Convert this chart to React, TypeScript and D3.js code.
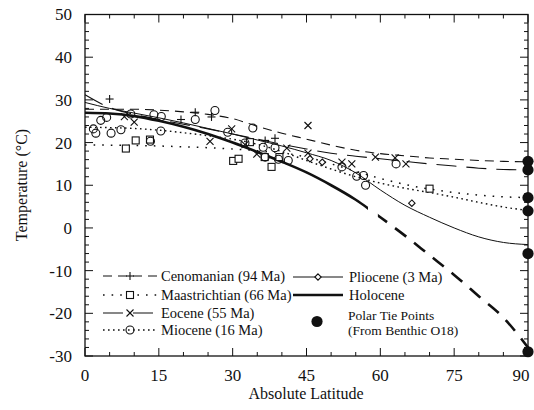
import React from "react";
import * as d3 from "d3";

// ---------- data ----------
const latGrid = [0, 5, 10, 15, 20, 25, 30, 35, 40, 45, 50, 55, 60, 65, 70, 75, 80, 85, 90];

const cenomanianFit = [27.8, 27.8, 27.8, 27.6, 27.2, 26.6, 25.6, 23.8, 22.2, 20.8, 19.4, 18.2, 17.4, 16.9, 16.4, 16.1, 15.8, 15.6, 15.5];
const maastrichtianFit = [19.4, 19.4, 19.3, 19.2, 19.0, 18.8, 18.5, 18.1, 17.6, 16.6, 15.0, 13.3, 11.6, 10.2, 9.1, 8.3, 7.7, 7.3, 7.1];
const eoceneFit = [31.2, 28.2, 26.6, 25.4, 24.3, 23.2, 22.0, 20.8, 19.6, 18.5, 17.5, 16.8, 16.2, 15.6, 15.0, 14.5, 14.0, 13.7, 13.6];
const mioceneFit = [23.6, 23.5, 23.3, 22.9, 22.3, 21.6, 20.8, 19.6, 17.9, 15.8, 13.8, 12.0, 10.5, 9.3, 8.3, 7.2, 6.0, 4.9, 4.1];
const plioceneFit = [29.4, 28.0, 26.9, 25.8, 24.6, 23.3, 22.0, 20.6, 19.2, 17.6, 15.8, 12.9, 8.9, 5.3, 2.5, 0.0, -2.1, -3.4, -3.9];
const holoceneFit = [27.0, 26.8, 26.2, 25.1, 23.7, 22.0, 20.0, 17.8, 15.5, 13.0, 10.0, 6.6, 2.5, -1.8, -6.4, -11.0, -16.0, -21.0, -28.0];
const holoceneSolidEnd = 57.5;

const cenomanianPts: [number, number][] = [
  [5, 30.2], [19.5, 25.4], [22.4, 27.1], [25.7, 26.0], [36.6, 20.5], [38.6, 21.0],
];
const maastrichtianPts: [number, number][] = [
  [8.3, 18.6], [10.3, 20.5], [13.2, 20.7], [30.1, 15.7], [31.2, 16.2], [33.5, 20.1],
  [36.5, 16.6], [37.9, 14.3], [39.5, 16.6], [70, 9.2],
];
const eocenePts: [number, number][] = [
  [8, 26.1], [10, 24.8], [25.4, 20.3], [29.8, 23.2], [32.5, 19.5], [34.9, 17.3],
  [41, 18.7], [45.3, 24.0], [45.3, 17.5], [52.2, 15.4], [54.2, 15.0], [59, 16.6],
  [63, 16.4], [65.2, 15.0],
];
const miocenePts: [number, number][] = [
  [1.7, 23.2], [2.2, 22.2], [3.2, 25.2], [4.4, 25.9], [5.3, 22.2], [7.3, 23.0],
  [9.3, 26.7], [13.3, 20.3], [14, 26.5], [15.5, 26.1], [15.4, 22.7], [22.4, 25.4],
  [26.4, 27.5], [29, 22.4], [32.5, 19.9], [34.1, 23.4], [36.2, 18.9], [36.6, 16.6],
  [38.6, 18.8], [39.3, 16.1], [41.3, 15.8], [52.2, 14.3], [55.2, 12.1], [56.6, 12.3],
  [57, 10.0], [63.2, 15.0],
];
const pliocenePts: [number, number][] = [
  [45.7, 16.2], [48.2, 15.4], [66.4, 5.8],
];
const polarTieLat = 90;
const polarTieTemps = [15.6, 13.6, 7.1, 4.0, -6.0, -29.0];

const xTicks = [0, 15, 30, 45, 60, 75, 90];
const yTicks = [-30, -20, -10, 0, 10, 20, 30, 40, 50];

const legendLeft = ["Cenomanian (94 Ma)", "Maastrichtian (66 Ma)", "Eocene (55 Ma)", "Miocene (16 Ma)"];
const legendRight = ["Pliocene (3 Ma)", "Holocene"];
const tieLabel = ["Polar Tie Points", "(From Benthic O18)"];

// ---------- chart ----------
const W = 534;
const H = 410;
const FONT = "'Liberation Serif', 'Times New Roman', serif";
const INK = "#111";

const x = d3.scaleLinear().domain([0, 90]).range([85, 528]);
const y = d3.scaleLinear().domain([-30, 50]).range([356, 14.5]);

const lineGen = d3
  .line<[number, number]>()
  .x((d) => x(d[0]))
  .y((d) => y(d[1]))
  .curve(d3.curveMonotoneX);

const zipFit = (vals: number[]) => latGrid.map((l, i) => [l, vals[i]] as [number, number]);

type MarkerKind = "plus" | "square" | "cross" | "circle" | "diamond";

function Marker({ kind, cx, cy }: { kind: MarkerKind; cx: number; cy: number }) {
  const sw = 1.1;
  if (kind === "plus") {
    return (
      <g stroke={INK} strokeWidth={sw}>
        <line x1={cx - 4} x2={cx + 4} y1={cy} y2={cy} />
        <line x1={cx} x2={cx} y1={cy - 4} y2={cy + 4} />
      </g>
    );
  }
  if (kind === "cross") {
    return (
      <g stroke={INK} strokeWidth={sw}>
        <line x1={cx - 3.5} x2={cx + 3.5} y1={cy - 3.5} y2={cy + 3.5} />
        <line x1={cx - 3.5} x2={cx + 3.5} y1={cy + 3.5} y2={cy - 3.5} />
      </g>
    );
  }
  if (kind === "square") {
    return <rect x={cx - 3.5} y={cy - 3.5} width={7} height={7} fill="white" stroke={INK} strokeWidth={sw} />;
  }
  if (kind === "circle") {
    return <circle cx={cx} cy={cy} r={4} fill="none" stroke={INK} strokeWidth={sw} />;
  }
  return (
    <path
      d={`M${cx},${cy - 3.2}L${cx + 3.2},${cy}L${cx},${cy + 3.2}L${cx - 3.2},${cy}Z`}
      fill="white"
      stroke={INK}
      strokeWidth={sw}
    />
  );
}

const series = [
  { name: legendLeft[0], fit: cenomanianFit, pts: cenomanianPts, marker: "plus" as MarkerKind, dash: "9,6", width: 1.1 },
  { name: legendLeft[1], fit: maastrichtianFit, pts: maastrichtianPts, marker: "square" as MarkerKind, dash: "1.6,7", width: 1.5 },
  { name: legendLeft[2], fit: eoceneFit, pts: eocenePts, marker: "cross" as MarkerKind, dash: "20,10", width: 1.1 },
  { name: legendLeft[3], fit: mioceneFit, pts: miocenePts, marker: "circle" as MarkerKind, dash: "1.6,3.4", width: 1.4 },
  { name: legendRight[0], fit: plioceneFit, pts: pliocenePts, marker: "diamond" as MarkerKind, dash: "", width: 1.0 },
];

export default function App() {
  const yMinor = d3.range(-30, 50.001, 2);
  const xMinor = d3.range(0, 90.001, 5);
  const holo = zipFit(holoceneFit);
  const plotTop = y(50);
  const plotBottom = y(-30);
  const plotLeft = x(0);
  const plotRight = x(90);

  const leftRows = [276, 295, 313, 330];
  const rightRows = [277, 295];

  return (
    <svg
      width={W}
      height={H}
      viewBox={`0 0 ${W} ${H}`}
      style={{ position: "absolute", left: 0, top: 0, background: "white" }}
      fontFamily={FONT}
    >
      <defs>
        <clipPath id="holoSolid">
          <rect x={0} y={0} width={x(holoceneSolidEnd)} height={H} />
        </clipPath>
        <clipPath id="holoDash">
          <rect x={x(59.5)} y={0} width={W} height={H} />
        </clipPath>
      </defs>

      {/* frame */}
      <rect
        x={plotLeft}
        y={plotTop}
        width={plotRight - plotLeft}
        height={plotBottom - plotTop}
        fill="none"
        stroke={INK}
        strokeWidth={1.3}
      />

      {/* y ticks (left & right, inward) */}
      {yMinor.map((v) => {
        const major = v % 10 === 0;
        const len = major ? 8 : 4;
        return (
          <g key={"yt" + v} stroke={INK} strokeWidth={1}>
            <line x1={plotLeft} x2={plotLeft + len} y1={y(v)} y2={y(v)} />
            <line x1={plotRight} x2={plotRight - len} y1={y(v)} y2={y(v)} />
          </g>
        );
      })}
      {/* x ticks (bottom & top, inward) */}
      {xMinor.map((v) => {
        const major = v % 15 === 0;
        const len = major ? 8 : 4;
        return (
          <g key={"xt" + v} stroke={INK} strokeWidth={1}>
            <line x1={x(v)} x2={x(v)} y1={plotBottom} y2={plotBottom - len} />
            <line x1={x(v)} x2={x(v)} y1={plotTop} y2={plotTop + len} />
          </g>
        );
      })}

      {/* tick labels */}
      {yTicks.map((v) => (
        <text key={"yl" + v} x={72} y={y(v)} dy="0.35em" textAnchor="end" fontSize={17} fill={INK}>
          {v}
        </text>
      ))}
      {xTicks.map((v) => (
        <text
          key={"xl" + v}
          x={Math.min(x(v), 521)}
          y={381}
          textAnchor="middle"
          fontSize={17}
          fill={INK}
        >
          {v}
        </text>
      ))}

      {/* axis titles */}
      <text x={306} y={399} textAnchor="middle" fontSize={16} fill={INK}>
        Absolute Latitude
      </text>
      <text
        transform={`translate(27,185) rotate(-90)`}
        textAnchor="middle"
        fontSize={16}
        fill={INK}
      >
        Temperature (°C)
      </text>

      {/* fitted curves */}
      {series.map((s) => (
        <path
          key={"fit" + s.name}
          d={lineGen(zipFit(s.fit)) || ""}
          fill="none"
          stroke={INK}
          strokeWidth={s.width}
          strokeDasharray={s.dash || undefined}
        />
      ))}
      <path d={lineGen(holo) || ""} fill="none" stroke={INK} strokeWidth={2.6} clipPath="url(#holoSolid)" />
      <path
        d={lineGen(holo) || ""}
        fill="none"
        stroke={INK}
        strokeWidth={2.6}
        strokeDasharray="14,10"
        clipPath="url(#holoDash)"
      />

      {/* data points */}
      {series.map((s) =>
        s.pts.map((p, i) => <Marker key={s.name + i} kind={s.marker} cx={x(p[0])} cy={y(p[1])} />)
      )}

      {/* polar tie points */}
      {polarTieTemps.map((t, i) => (
        <circle key={"tie" + i} cx={x(polarTieLat)} cy={y(t)} r={5.6} fill={INK} />
      ))}

      {/* legend left */}
      {series.slice(0, 4).map((s, i) => (
        <g key={"lg" + i}>
          <line
            x1={103}
            x2={157}
            y1={leftRows[i]}
            y2={leftRows[i]}
            stroke={INK}
            strokeWidth={s.width}
            strokeDasharray={s.dash || undefined}
          />
          <Marker kind={s.marker} cx={130} cy={leftRows[i]} />
          <text x={161} y={leftRows[i]} dy="0.35em" fontSize={14.5} fill={INK}>
            {s.name}
          </text>
        </g>
      ))}
      {/* legend right */}
      <line x1={293} x2={343} y1={rightRows[0]} y2={rightRows[0]} stroke={INK} strokeWidth={1} />
      <Marker kind="diamond" cx={318} cy={rightRows[0]} />
      <text x={349} y={rightRows[0]} dy="0.35em" fontSize={14.5} fill={INK}>
        {legendRight[0]}
      </text>
      <line x1={293} x2={343} y1={rightRows[1]} y2={rightRows[1]} stroke={INK} strokeWidth={2.6} />
      <text x={349} y={rightRows[1]} dy="0.35em" fontSize={14.5} fill={INK}>
        {legendRight[1]}
      </text>
      <circle cx={317} cy={321.5} r={5.6} fill={INK} />
      <text x={348} y={315} dy="0.35em" fontSize={13.5} fill={INK}>
        {tieLabel[0]}
      </text>
      <text x={348} y={330} dy="0.35em" fontSize={13.5} fill={INK}>
        {tieLabel[1]}
      </text>
    </svg>
  );
}
